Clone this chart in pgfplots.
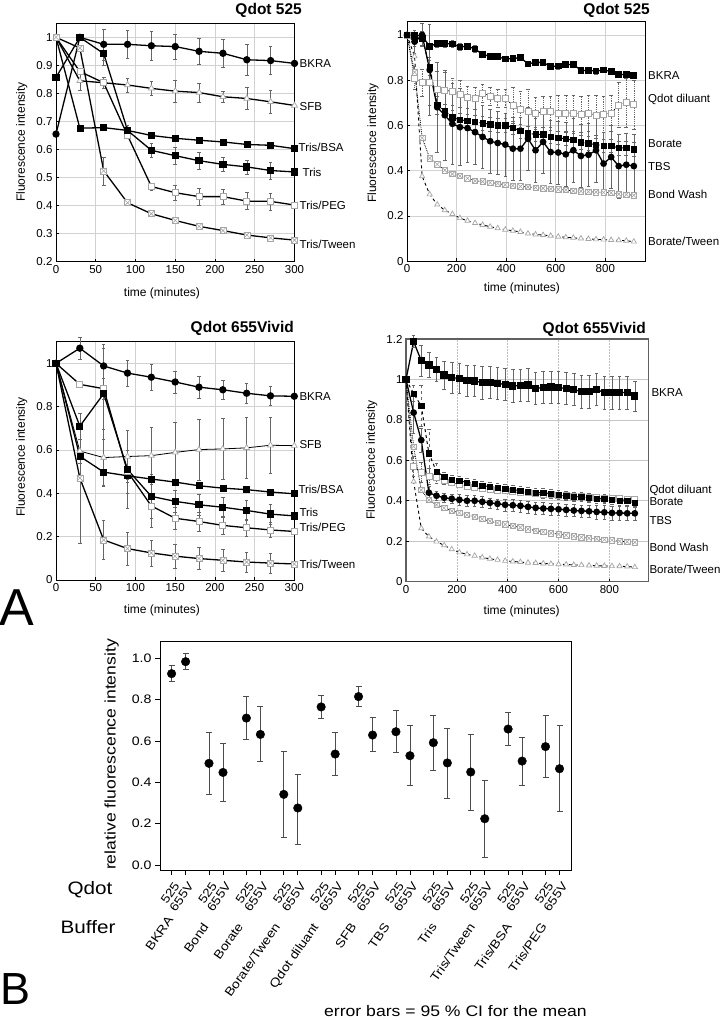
\documentclass[border=0pt]{standalone}
\usepackage{fontspec}
\setmainfont{Liberation Sans}
\newfontfamily\wide[FakeStretch=1.15]{Liberation Sans}
\usepackage{pgfplots}
\usepackage{pgfplotstable}
\pgfplotsset{compat=1.18}
\usetikzlibrary{plotmarks}

\pgfdeclareplotmark{sqx}{%
  \pgfpathrectangle{\pgfqpoint{-\pgfplotmarksize}{-\pgfplotmarksize}}{\pgfqpoint{2\pgfplotmarksize}{2\pgfplotmarksize}}%
  \pgfusepathqfillstroke
  \pgfpathmoveto{\pgfqpoint{-\pgfplotmarksize}{-\pgfplotmarksize}}%
  \pgfpathlineto{\pgfqpoint{\pgfplotmarksize}{\pgfplotmarksize}}%
  \pgfpathmoveto{\pgfqpoint{-\pgfplotmarksize}{\pgfplotmarksize}}%
  \pgfpathlineto{\pgfqpoint{\pgfplotmarksize}{-\pgfplotmarksize}}%
  \pgfusepathqstroke}
\pgfdeclareplotmark{halfsq}{%
  \pgfpathrectangle{\pgfqpoint{-\pgfplotmarksize}{-\pgfplotmarksize}}{\pgfqpoint{2\pgfplotmarksize}{2\pgfplotmarksize}}%
  \pgfusepathqfillstroke
  \pgfpathrectangle{\pgfqpoint{-\pgfplotmarksize}{-\pgfplotmarksize}}{\pgfqpoint{\pgfplotmarksize}{2\pgfplotmarksize}}%
  \pgfsetfillcolor{black}\pgfusepathqfill}

\tikzset{lab/.style={anchor=west, inner sep=0pt, font=\fontsize{11.5}{12}\selectfont}}

\pgfplotsset{
  panel/.style={scale only axis, anchor=south west, clip=false,
    axis line style={black, line width=0.9pt},
    grid=major, major grid style={gray!35, line width=0.6pt},
    tick align=inside, xtick pos=bottom, ytick pos=left,
    major tick length=3pt, tick style={black, line width=0.6pt},
    ticklabel style={font=\fontsize{11.5}{12}\selectfont},
    /pgf/number format/assume math mode=true,
    error bars/y dir=both, error bars/y explicit,
    error bars/error bar style={black!60, line width=0.5pt},
    error bars/error mark options={rotate=90, mark size=1.8pt, black!60, line width=0.5pt},
  },
  sl/.style={black, line width=1.3pt, mark options={solid}},
  mcirc/.style={mark=*, mark size=3pt, mark options={fill=black, draw=black, solid}},
  msq/.style={mark=square*, mark size=3pt, mark options={fill=black, draw=black, solid}},
  mosq/.style={mark=square*, mark size=3pt, mark options={fill=white, draw=gray!70, line width=0.7pt, solid}},
  mtri/.style={mark=triangle*, mark size=3.4pt, mark options={fill=white, draw=gray!70, line width=0.7pt, solid}},
  mhalf/.style={mark=halfsq, mark size=3pt, mark options={fill=white, draw=black, line width=0.6pt, solid}},
  mx/.style={mark=sqx, mark size=3pt, mark options={fill=white, draw=gray!70, line width=0.6pt, solid}},
}

\pgfplotstableread{
t bk bke qd qde bo boe tb tbe bw bt
0 1.0 0 1.0 0 1.0 0 1.0 0 1.0 1.0
30.5 1.0 0.01 0.81 0.05 0.98 0.03 0.97 0.05 0.835 0.905
61 0.994 0.015 0.79 0.06 0.985 0.03 1.0 0.05 0.545 0.375
91.5 0.95 0.015 0.79 0.1 0.86 0.04 0.845 0.2 0.455 0.295
122 0.962 0.015 0.76 0.08 0.69 0.04 0.68 0.2 0.428 0.25
152.5 0.962 0.015 0.755 0.08 0.665 0.03 0.645 0.2 0.402 0.225
183 0.96 0.015 0.75 0.06 0.635 0.03 0.607 0.18 0.385 0.208
213.5 0.947 0.015 0.738 0.06 0.625 0.03 0.592 0.17 0.376 0.19
244 0.95 0.015 0.725 0.05 0.62 0.03 0.588 0.15 0.366 0.178
274.5 0.938 0.015 0.72 0.05 0.615 0.03 0.57 0.14 0.355 0.168
305 0.913 0.012 0.743 0.04 0.61 0.03 0.549 0.14 0.352 0.16
335.5 0.906 0.012 0.73 0.04 0.605 0.03 0.53 0.14 0.347 0.152
366 0.903 0.012 0.72 0.04 0.6 0.03 0.522 0.14 0.343 0.145
396.5 0.894 0.012 0.72 0.04 0.6 0.03 0.515 0.14 0.337 0.139
427 0.895 0.012 0.688 0.08 0.59 0.03 0.497 0.14 0.334 0.134
457.5 0.9 0.012 0.67 0.08 0.575 0.03 0.497 0.14 0.33 0.129
488 0.872 0.012 0.66 0.1 0.565 0.03 0.541 0.14 0.328 0.122
518.5 0.879 0.012 0.655 0.07 0.56 0.03 0.49 0.14 0.325 0.118
549 0.878 0.012 0.66 0.07 0.56 0.03 0.527 0.14 0.322 0.115
579.5 0.86 0.012 0.66 0.07 0.55 0.03 0.482 0.14 0.319 0.112
610 0.862 0.012 0.655 0.08 0.545 0.03 0.48 0.14 0.317 0.108
640.5 0.868 0.012 0.655 0.08 0.54 0.03 0.472 0.14 0.314 0.105
671 0.87 0.012 0.655 0.08 0.535 0.03 0.49 0.14 0.31 0.103
701.5 0.843 0.012 0.65 0.08 0.525 0.03 0.465 0.14 0.309 0.1
732 0.843 0.012 0.655 0.08 0.52 0.03 0.47 0.14 0.307 0.098
762.5 0.84 0.012 0.645 0.09 0.515 0.03 0.49 0.14 0.305 0.096
793 0.845 0.012 0.65 0.08 0.51 0.03 0.431 0.14 0.304 0.095
823.5 0.838 0.012 0.655 0.08 0.51 0.03 0.46 0.14 0.302 0.093
854 0.824 0.012 0.69 0.1 0.5 0.03 0.42 0.14 0.296 0.092
884.5 0.826 0.012 0.7 0.11 0.5 0.03 0.426 0.14 0.294 0.09
915 0.82 0.012 0.691 0.11 0.495 0.03 0.42 0.14 0.291 0.086
}\tabB

\pgfplotstableread{
t bk bke qd qde bo boe tb tbe bw bt
0 1.0 0 1.0 0 1.0 0 1.0 0 1.0 1.0
30 1.187 0.03 0.57 0.05 0.93 0.04 0.836 0.1 0.668 0.495
60 1.093 0.075 0.54 0.05 0.869 0.1 0.70 0.06 0.453 0.264
90 1.072 0.06 0.52 0.04 0.635 0.12 0.44 0.03 0.404 0.223
120 1.05 0.06 0.515 0.03 0.544 0.04 0.425 0.02 0.38 0.198
150 1.022 0.07 0.5 0.02 0.52 0.02 0.415 0.02 0.365 0.18
180 1.009 0.075 0.49 0.015 0.505 0.02 0.41 0.02 0.35 0.16
210 1.005 0.075 0.48 0.015 0.5 0.02 0.405 0.025 0.34 0.145
240 0.994 0.075 0.47 0.015 0.49 0.02 0.4 0.025 0.33 0.135
270 0.993 0.075 0.465 0.015 0.485 0.02 0.4 0.025 0.32 0.128
300 0.984 0.08 0.46 0.015 0.475 0.02 0.395 0.025 0.31 0.12
330 0.985 0.08 0.455 0.015 0.47 0.02 0.39 0.025 0.3 0.113
360 0.98 0.08 0.45 0.015 0.465 0.02 0.385 0.025 0.29 0.108
390 0.976 0.08 0.45 0.015 0.46 0.02 0.38 0.03 0.283 0.103
420 0.968 0.08 0.445 0.015 0.455 0.02 0.378 0.03 0.275 0.1
450 0.97 0.08 0.44 0.015 0.45 0.02 0.375 0.03 0.268 0.097
480 0.973 0.08 0.44 0.015 0.445 0.02 0.37 0.03 0.26 0.094
510 0.956 0.08 0.435 0.015 0.44 0.02 0.365 0.03 0.253 0.092
540 0.96 0.08 0.43 0.015 0.44 0.02 0.362 0.03 0.247 0.09
570 0.962 0.08 0.43 0.015 0.435 0.02 0.36 0.03 0.24 0.088
600 0.96 0.08 0.425 0.015 0.43 0.02 0.358 0.03 0.235 0.086
630 0.955 0.08 0.425 0.015 0.425 0.02 0.355 0.03 0.23 0.085
660 0.95 0.08 0.42 0.015 0.42 0.02 0.352 0.03 0.225 0.083
690 0.94 0.08 0.42 0.015 0.42 0.02 0.35 0.03 0.22 0.082
720 0.94 0.08 0.415 0.015 0.415 0.02 0.348 0.03 0.215 0.08
750 0.95 0.08 0.415 0.015 0.41 0.02 0.345 0.035 0.212 0.079
780 0.935 0.08 0.41 0.015 0.41 0.02 0.343 0.035 0.208 0.078
810 0.935 0.08 0.41 0.015 0.405 0.02 0.34 0.035 0.205 0.077
840 0.935 0.08 0.41 0.015 0.4 0.02 0.34 0.035 0.2 0.076
870 0.935 0.08 0.405 0.015 0.4 0.02 0.338 0.035 0.198 0.075
900 0.918 0.075 0.405 0.015 0.39 0.02 0.338 0.035 0.195 0.072
}\tabD

\pgfplotstableread{
x y ep em
0 0.926 0.039 0.039
0.375 0.984 0.039 0.037
1 0.492 0.150 0.148
1.375 0.448 0.141 0.142
2 0.711 0.104 0.101
2.375 0.632 0.137 0.132
3 0.342 0.206 0.208
3.375 0.276 0.165 0.176
4 0.765 0.056 0.055
4.375 0.537 0.107 0.105
5 0.815 0.048 0.046
5.375 0.629 0.086 0.081
6 0.645 0.102 0.100
6.375 0.529 0.147 0.145
7 0.592 0.134 0.134
7.375 0.494 0.167 0.170
8 0.450 0.182 0.184
8.375 0.224 0.187 0.189
9 0.658 0.079 0.077
9.375 0.503 0.116 0.116
10 0.573 0.153 0.150
10.375 0.466 0.210 0.205
}\tabCI

\begin{document}
\begin{tikzpicture}[x=1pt,y=1pt]
\useasboundingbox (0,0) rectangle (725,1020);

% ---------------- Panel 1: Qdot 525, 0-300
\begin{axis}[panel, at={(56pt,758.3pt)}, width=238.5pt, height=238.4pt,
  xmin=0, xmax=300, ymin=0.2, ymax=1.05,
  xtick={0,50,100,150,200,250,300},
  ytick={0.2,0.3,0.4,0.5,0.6,0.7,0.8,0.9,1}]
\addplot[sl, mtri] coordinates {(0,1) +- (0,0) (30,0.845) +- (0,0.035) (60,0.838) +- (0,0.02) (90,0.83) +- (0,0.025) (120,0.818) +- (0,0.025) (150,0.808) +- (0,0.04) (180,0.803) +- (0,0.035) (210,0.788) +- (0,0.02) (240,0.782) +- (0,0.04) (270,0.77) +- (0,0.04) (300,0.757) +- (0,0)};
\addplot[sl, mhalf] coordinates {(0,1) +- (0,0) (30,0.676) +- (0,0.005) (60,0.678) +- (0,0.007) (90,0.668) +- (0,0.01) (120,0.65) +- (0,0.01) (150,0.64) +- (0,0.01) (180,0.633) +- (0,0.01) (210,0.627) +- (0,0.01) (240,0.618) +- (0,0.008) (270,0.615) +- (0,0.008) (300,0.603) +- (0,0)};
\addplot[sl, mosq] coordinates {(0,1) +- (0,0) (30,0.878) +- (0,0) (60,0.838) +- (0,0) (90,0.65) +- (0,0.01) (120,0.468) +- (0,0.012) (150,0.446) +- (0,0.028) (180,0.432) +- (0,0.03) (210,0.432) +- (0,0.028) (240,0.416) +- (0,0.03) (270,0.415) +- (0,0.03) (300,0.402) +- (0,0)};
\addplot[sl, mx] coordinates {(0,1) +- (0,0) (30,0.962) +- (0,0) (60,0.524) +- (0,0.05) (90,0.41) +- (0,0) (120,0.371) +- (0,0) (150,0.347) +- (0,0) (180,0.326) +- (0,0) (210,0.311) +- (0,0) (240,0.295) +- (0,0) (270,0.285) +- (0,0) (300,0.277) +- (0,0)};
\addplot[sl, msq] coordinates {(0,0.857) +- (0,0) (30,1.0) +- (0,0) (60,0.942) +- (0,0.04) (90,0.668) +- (0,0.02) (120,0.597) +- (0,0.025) (150,0.578) +- (0,0.03) (180,0.56) +- (0,0.03) (210,0.547) +- (0,0.025) (240,0.538) +- (0,0.025) (270,0.525) +- (0,0.03) (300,0.52) +- (0,0)};
\addplot[sl, mcirc] coordinates {(0,0.655) +- (0,0) (30,1.0) +- (0,0) (60,0.975) +- (0,0.055) (90,0.975) +- (0,0.05) (120,0.97) +- (0,0.05) (150,0.967) +- (0,0.045) (180,0.95) +- (0,0.045) (210,0.943) +- (0,0.05) (240,0.92) +- (0,0.055) (270,0.917) +- (0,0.05) (300,0.907) +- (0,0)};
\node[lab, xshift=5pt] at (axis cs:300,0.906) {BKRA};
\node[lab, xshift=5pt] at (axis cs:300,0.752) {SFB};
\node[lab, xshift=4pt] at (axis cs:300,0.606) {Tris/BSA};
\node[lab, xshift=8pt] at (axis cs:300,0.52) {Tris};
\node[lab, xshift=5pt] at (axis cs:300,0.4) {Tris/PEG};
\node[lab, xshift=5pt] at (axis cs:300,0.26) {Tris/Tween};
\end{axis}

% ---------------- Panel 2: Qdot 525, 0-900
\begin{axis}[panel, at={(407pt,758.9pt)}, width=238pt, height=239.3pt,
  xmin=0, xmax=960, ymin=0, ymax=1.058,
  xtick={0,200,400,600,800}, ytick={0,0.2,0.4,0.6,0.8,1}]
\addplot[black, line width=0.9pt, dashed, mtri, mark size=3pt] table[x=t,y=bt] {\tabB};
\addplot[black, line width=0.8pt, densely dotted, mx, mark size=2.7pt] table[x=t,y=bw] {\tabB};
\addplot[black, line width=0.8pt, densely dotted, mosq, mark size=3pt] table[x=t,y=qd,y error=qde] {\tabB};
\addplot[black, line width=1pt, dashed, mhalf, mark size=2.7pt] table[x=t,y=bo,y error=boe] {\tabB};
\addplot[black, line width=1.3pt, mcirc, mark size=2.7pt] table[x=t,y=tb,y error=tbe] {\tabB};
\addplot[black, line width=1.3pt, msq, mark size=2.7pt] table[x=t,y=bk,y error=bke] {\tabB};
\node[lab, xshift=3pt] at (axis cs:960,0.82) {BKRA};
\node[lab, xshift=3pt] at (axis cs:960,0.713) {Qdot diluant};
\node[lab, xshift=3pt] at (axis cs:960,0.519) {Borate};
\node[lab, xshift=3pt] at (axis cs:960,0.42) {TBS};
\node[lab, xshift=3pt] at (axis cs:960,0.296) {Bond Wash};
\node[lab, xshift=3pt] at (axis cs:960,0.085) {Borate/Tween};
\end{axis}

% ---------------- Panel 3: Qdot 655Vivid, 0-300
\begin{axis}[panel, at={(56pt,440pt)}, width=238.3pt, height=238.3pt,
  xmin=0, xmax=300, ymin=0, ymax=1.1,
  xtick={0,50,100,150,200,250,300},
  ytick={0,0.2,0.4,0.6,0.8,1}]
\addplot[black, line width=0.8pt, mtri] coordinates {(0,1) +- (0,0) (30,0.595) +- (0,0.12) (60,0.565) +- (0,0.13) (90,0.57) +- (0,0.12) (120,0.574) +- (0,0.13) (150,0.589) +- (0,0.14) (180,0.602) +- (0,0.14) (210,0.605) +- (0,0.14) (240,0.61) +- (0,0.14) (270,0.622) +- (0,0.13) (300,0.62) +- (0,0)};
\addplot[sl, mhalf] coordinates {(0,1) +- (0,0) (30,0.571) +- (0,0.03) (60,0.498) +- (0,0.06) (90,0.481) +- (0,0.015) (120,0.466) +- (0,0.015) (150,0.452) +- (0,0.012) (180,0.435) +- (0,0.012) (210,0.424) +- (0,0.012) (240,0.417) +- (0,0.012) (270,0.406) +- (0,0.012) (300,0.398) +- (0,0)};
\addplot[sl, mosq] coordinates {(0,1) +- (0,0) (30,0.903) +- (0,0) (60,0.883) +- (0,0.05) (90,0.5) +- (0,0.1) (120,0.342) +- (0,0.1) (150,0.285) +- (0,0.05) (180,0.27) +- (0,0.045) (210,0.252) +- (0,0.04) (240,0.241) +- (0,0.04) (270,0.231) +- (0,0.035) (300,0.224) +- (0,0)};
\addplot[sl, mx] coordinates {(0,1) +- (0,0) (30,0.471) +- (0,0.3) (60,0.185) +- (0,0.09) (90,0.145) +- (0,0.075) (120,0.125) +- (0,0.06) (150,0.11) +- (0,0.055) (180,0.099) +- (0,0.05) (210,0.091) +- (0,0.05) (240,0.083) +- (0,0.045) (270,0.078) +- (0,0.045) (300,0.074) +- (0,0)};
\addplot[sl, msq] coordinates {(0,1) +- (0,0) (30,0.71) +- (0,0.06) (60,0.86) +- (0,0.21) (90,0.51) +- (0,0.18) (120,0.386) +- (0,0.1) (150,0.363) +- (0,0.05) (180,0.347) +- (0,0.05) (210,0.336) +- (0,0.045) (240,0.321) +- (0,0.045) (270,0.304) +- (0,0.045) (300,0.296) +- (0,0)};
\addplot[sl, mcirc] coordinates {(0,1) +- (0,0) (30,1.07) +- (0,0.05) (60,0.988) +- (0,0.1) (90,0.955) +- (0,0.06) (120,0.936) +- (0,0.06) (150,0.914) +- (0,0.05) (180,0.89) +- (0,0.05) (210,0.878) +- (0,0.045) (240,0.862) +- (0,0.045) (270,0.85) +- (0,0.045) (300,0.848) +- (0,0)};
\node[lab, xshift=5pt] at (axis cs:300,0.847) {BKRA};
\node[lab, xshift=5pt] at (axis cs:300,0.625) {SFB};
\node[lab, xshift=4pt] at (axis cs:300,0.42) {Tris/BSA};
\node[lab, xshift=5pt] at (axis cs:300,0.31) {Tris};
\node[lab, xshift=5pt] at (axis cs:300,0.241) {Tris/PEG};
\node[lab, xshift=5pt] at (axis cs:300,0.072) {Tris/Tween};
\end{axis}

% ---------------- Panel 4: Qdot 655Vivid, 0-900
\begin{axis}[panel, at={(406pt,438.3pt)}, width=242.3pt, height=242.7pt,
  xmin=0, xmax=953, ymin=0, ymax=1.2,
  axis line style={gray!75!black, line width=1.2pt},
  xmajorgrids=true, ymajorgrids=false,
  major grid style={gray!50, line width=0.5pt, densely dotted},
  extra y ticks={0.2,0.4,0.6,0.8,1},
  extra y tick labels={},
  extra y tick style={grid=major, major grid style={gray!45, solid, line width=0.6pt}},
  xtick={0,200,400,600,800}, ytick={0,0.2,0.4,0.6,0.8,1,1.2}]
\addplot[black, line width=0.9pt, dashed, mtri, mark size=3pt] table[x=t,y=bt] {\tabD};
\addplot[black, line width=0.8pt, densely dotted, mx, mark size=2.7pt] table[x=t,y=bw] {\tabD};
\addplot[black, line width=0.8pt, densely dotted, mosq, mark size=3pt] table[x=t,y=qd,y error=qde] {\tabD};
\addplot[black, line width=1pt, dashed, mhalf, mark size=2.7pt] table[x=t,y=bo,y error=boe] {\tabD};
\addplot[black, line width=1.3pt, mcirc, mark size=2.7pt] table[x=t,y=tb,y error=tbe] {\tabD};
\addplot[black, line width=1.3pt, msq, mark size=3pt] table[x=t,y=bk,y error=bke] {\tabD};
\node[lab, xshift=3pt] at (axis cs:953,0.937) {BKRA};
\node[lab, xshift=1pt] at (axis cs:953,0.451) {Qdot diluant};
\node[lab, xshift=1pt] at (axis cs:953,0.397) {Borate};
\node[lab, xshift=1pt] at (axis cs:953,0.3) {TBS};
\node[lab, xshift=1pt] at (axis cs:953,0.172) {Bond Wash};
\node[lab, xshift=1pt] at (axis cs:953,0.061) {Borate/Tween};
\end{axis}

% titles and axis labels, panels A
\begin{scope}[every node/.style={inner sep=0pt}]
\node[anchor=east, font=\bfseries\fontsize{15.5}{16}\selectfont] at (302,1010) {Qdot 525};
\node[anchor=east, font=\bfseries\fontsize{15.5}{16}\selectfont] at (650,1010) {Qdot 525};
\node[anchor=east, font=\bfseries\fontsize{15.5}{16}\selectfont] at (294,692) {Qdot 655Vivid};
\node[anchor=east, font=\bfseries\fontsize{15.5}{16}\selectfont] at (646,691) {Qdot 655Vivid};
\node[rotate=90, font=\fontsize{12}{13}\selectfont] at (21.7,878) {Fluorescence intensity};
\node[rotate=90, font=\fontsize{12}{13}\selectfont] at (373,877) {Fluorescence intensity};
\node[rotate=90, font=\fontsize{12}{13}\selectfont] at (21.7,563) {Fluorescence intensity};
\node[rotate=90, font=\fontsize{12}{13}\selectfont] at (371.7,560) {Fluorescence intensity};
\node[font=\fontsize{12}{13}\selectfont] at (162,727) {time (minutes)};
\node[font=\fontsize{12}{13}\selectfont] at (522,732) {time (minutes)};
\node[font=\fontsize{12}{13}\selectfont] at (162,410) {time (minutes)};
\node[font=\fontsize{12}{13}\selectfont] at (521.7,408.3) {time (minutes)};
\node[font=\fontsize{52}{54}\selectfont] at (17,412) {A};
\node[font=\fontsize{45}{48}\selectfont] at (16,31) {B};
\end{scope}

% ---------------- Panel B
\begin{axis}[scale only axis, anchor=south west, at={(160pt,150pt)}, width=411.3pt, height=229pt,
  clip=false,
  xmin=-0.31, xmax=10.69, ymin=-0.024, ymax=1.084,
  axis line style={black, line width=0.9pt},
  tick align=outside, xtick pos=bottom, ytick pos=left,
  major tick length=5pt, tick style={black, line width=0.7pt},
  ytick={0,0.2,0.4,0.6,0.8,1.0},
  yticklabel style={font=\wide\fontsize{12.3}{13}\selectfont, /pgf/number format/fixed, /pgf/number format/fixed zerofill, /pgf/number format/precision=1},
  /pgf/number format/assume math mode=true,
  xtick={0,0.375,1,1.375,2,2.375,3,3.375,4,4.375,5,5.375,6,6.375,7,7.375,8,8.375,9,9.375,10,10.375},
  xticklabels={525,655V,525,655V,525,655V,525,655V,525,655V,525,655V,525,655V,525,655V,525,655V,525,655V,525,655V},
  xticklabel style={font=\wide\fontsize{12}{13}\selectfont, xshift=1.6pt, yshift=-6pt, rotate=55, anchor=north east, inner sep=0pt},
  ]
\addplot[only marks, mark=*, mark size=4.3pt, black,
  error bars/.cd, y dir=both, y explicit,
  error bar style={black!70, line width=0.7pt},
  error mark options={rotate=90, mark size=3pt, black!70, line width=0.7pt}]
  table[x=x, y=y, y error plus=ep, y error minus=em] {\tabCI};
\end{axis}

\begin{scope}[every node/.style={inner sep=0pt}]
\node[rotate=90, font=\wide\fontsize{15.3}{16}\selectfont] at (111.7,265.5) {relative fluorescence intensity};
\node[font=\wide\fontsize{18}{20}\selectfont] at (90,130) {Qdot};
\node[font=\wide\fontsize{18}{20}\selectfont] at (88,93) {Buffer};
\begin{scope}[every node/.append style={rotate=55, anchor=north east, font=\wide\fontsize{12.2}{13}\selectfont}]
\node at (166.7,105) {BKRA};
\node at (201.7,98.3) {Bond};
\node at (236.7,98.3) {Borate};
\node at (273.3,98.3) {Borate/Tween};
\node at (311.7,98.3) {Qdot diluant};
\node at (350,98.3) {SFB};
\node at (383.3,98.3) {TBS};
\node at (430,98.3) {Tris};
\node at (468.3,98.3) {Tris/Tween};
\node at (505,98.3) {Tris/BSA};
\node at (540,98.3) {Tris/PEG};
\end{scope}
\node[anchor=base, font=\wide\fontsize{15.3}{16}\selectfont] at (455.5,3) {error bars = 95 \% CI for the mean};
\end{scope}
\end{tikzpicture}
\end{document}
